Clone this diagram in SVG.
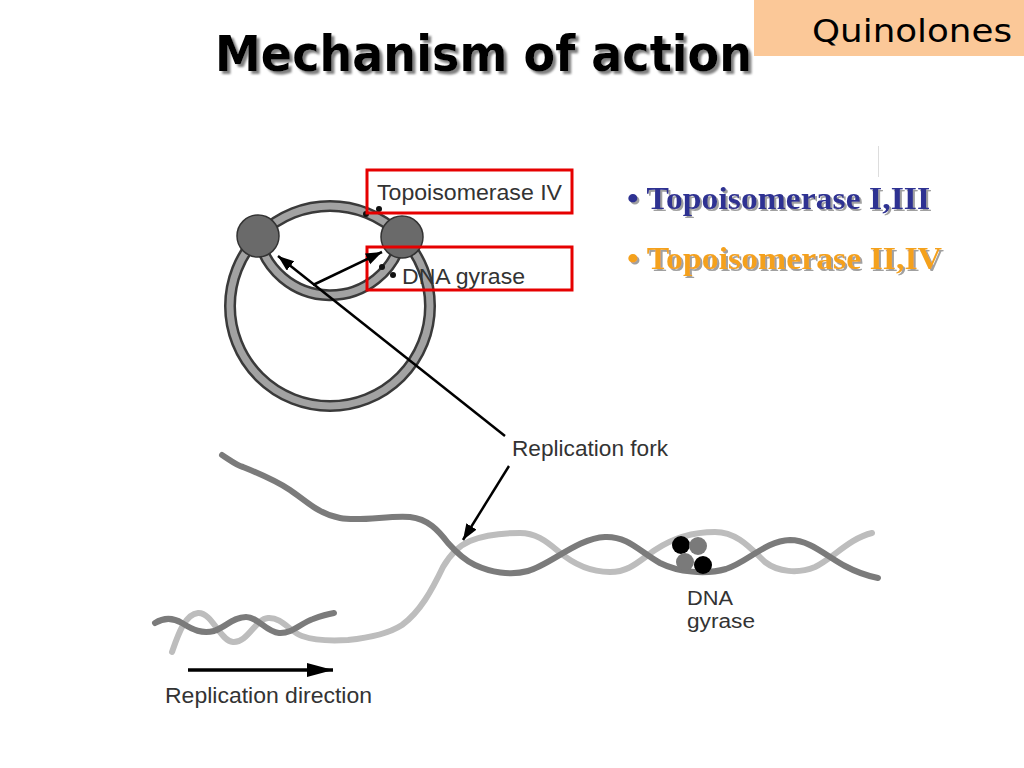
<svg xmlns="http://www.w3.org/2000/svg" width="1024" height="768" viewBox="0 0 1024 768">
  <style>
    .title { font-family: "DejaVu Sans", "Liberation Sans", sans-serif; font-weight: bold; font-size: 50px; }
    .lbl { font-family: "Liberation Sans", Arial, sans-serif; font-size: 22px; fill: #333333; }
    .lbl2 { font-family: "Liberation Sans", Arial, sans-serif; font-size: 20px; fill: #333333; }
    .bul { font-family: "Liberation Serif", "Times New Roman", serif; font-weight: bold; font-size: 32px; }
    .tubeO { fill: none; stroke: #3a3a3a; stroke-width: 12; }
    .tubeI { fill: none; stroke: #a2a2a2; stroke-width: 7; }
    .bead { fill: #6a6a6a; stroke: #333333; stroke-width: 1.5; }
    .dot { fill: #111111; }
    .redbox { fill: none; stroke: #e60000; stroke-width: 3; }
    .arr { fill: none; stroke: #000000; stroke-width: 2.5; }
    .dark { fill: none; stroke: #7b7b7b; stroke-width: 6; stroke-linecap: round; }
    .light { fill: none; stroke: #bdbdbd; stroke-width: 6; stroke-linecap: round; }
  </style>
  <defs>
    <filter id="shTitle" x="-5%" y="-20%" width="110%" height="150%">
      <feDropShadow dx="3" dy="3" stdDeviation="0.8" flood-color="#808080" flood-opacity="1"/>
    </filter>
    <filter id="shBul" x="-5%" y="-20%" width="110%" height="150%">
      <feDropShadow dx="2" dy="2" stdDeviation="0.6" flood-color="#a0a0a0" flood-opacity="1"/>
    </filter>
    <marker id="ah" markerUnits="userSpaceOnUse" markerWidth="18" markerHeight="14" refX="16" refY="6" orient="auto">
      <path d="M0,0 L16,6 L0,12 z" fill="#000000"/>
    </marker>
    <marker id="ahBig" markerUnits="userSpaceOnUse" markerWidth="28" markerHeight="16" refX="26" refY="7" orient="auto">
      <path d="M0,0 L26,7 L0,14 z" fill="#000000"/>
    </marker>
  </defs>
  <rect x="0" y="0" width="1024" height="768" fill="#ffffff"/>

  <g id="header">
    <rect x="754" y="0" width="270" height="56" fill="#fbc898"/>
    <text x="812" y="42" font-family="DejaVu Sans, sans-serif" font-size="32" fill="#000000" textLength="200" lengthAdjust="spacingAndGlyphs">Quinolones</text>
    <text class="title" x="215" y="71" fill="#000000" filter="url(#shTitle)" textLength="537" lengthAdjust="spacingAndGlyphs">Mechanism of action</text>
  </g>

  <g id="bullets">
    <text class="bul" x="627" y="209" fill="#2e3192" filter="url(#shBul)" textLength="303" lengthAdjust="spacingAndGlyphs">• Topoisomerase I,III</text>
    <text class="bul" x="627" y="269" fill="#f4a11f" filter="url(#shBul)" textLength="315" lengthAdjust="spacingAndGlyphs">• Topoisomerase II,IV</text>
    <line x1="878.5" y1="146" x2="878.5" y2="177" stroke="#dddddd" stroke-width="1"/>
  </g>

  <g id="plasmid">
    <circle class="tubeO" cx="330" cy="306" r="100"/>
    <circle class="tubeI" cx="330" cy="306" r="100"/>
    <path class="tubeO" d="M258,235 A73.4,73.4 0 0 0 402,237"/>
    <path class="tubeI" d="M258,235 A73.4,73.4 0 0 0 402,237"/>
    <circle class="bead" cx="258" cy="236" r="21"/>
    <circle class="bead" cx="402" cy="237" r="21"/>
    <circle class="dot" cx="366" cy="214" r="3"/>
    <circle class="dot" cx="379" cy="209" r="3"/>
    <circle class="dot" cx="382" cy="267" r="3"/>
    <circle class="dot" cx="393" cy="275" r="3"/>
  </g>

  <g id="topo-iv">
    <rect class="redbox" x="367" y="170" width="205" height="43"/>
    <text class="lbl" x="377" y="200" textLength="185" lengthAdjust="spacingAndGlyphs">Topoisomerase IV</text>
  </g>

  <g id="dna-gyrase-box">
    <rect class="redbox" x="367" y="247" width="205" height="43"/>
    <text class="lbl" x="402" y="284" textLength="123" lengthAdjust="spacingAndGlyphs">DNA gyrase</text>
  </g>

  <g id="dna">
    <path class="light" d="M172,652 C178,635 185,614 198,613 C212,612 220,641 233,642 C248,643 255,619 268,618 C282,617 290,632 302,636 C316,641 332,641 348,640 C368,638 388,634 402,625 C420,612 432,590 443,567 C450,555 458,546 470,541 C482,536 500,533 520,533 C535,533 545,540 558,551 C572,563 590,572 610,572 C630,572 640,560 655,550 C670,540 690,532 715,532 C738,532 752,550 765,562 C778,572 798,574 815,567 C832,559 850,538 872,533"/>
    <path class="dark" d="M155,623 C163,618 172,617 182,623 C193,630 202,634 214,631 C226,627 233,617 246,617 C258,617 266,632 279,633 C292,634 301,623 313,619 C321,616 328,614 334,613"/>
    <path class="dark" d="M222,455 C230,460 236,465 243,467 C258,473 275,480 290,490 C305,500 318,514 340,518 C360,522 390,515 410,517 C428,519 438,530 448,543 C456,552 464,560 475,565 C490,572 510,576 528,571 C550,565 578,538 605,537 C628,536 640,552 660,563 C678,572 705,575 726,569 C748,562 765,541 790,540 C810,540 826,556 845,566 C858,573 868,576 878,578"/>
    <circle cx="681" cy="545" r="9" fill="#000000"/>
    <circle cx="698" cy="546" r="9" fill="#7a7a7a"/>
    <circle cx="685" cy="562" r="9" fill="#7a7a7a"/>
    <circle cx="703" cy="565" r="9" fill="#000000"/>
  </g>

  <g id="replication-fork">
    <text class="lbl" x="512" y="456" textLength="156" lengthAdjust="spacingAndGlyphs">Replication fork</text>
  </g>
  <g id="dna-gyrase">
    <text class="lbl2" x="687" y="605" textLength="46" lengthAdjust="spacingAndGlyphs">DNA</text>
    <text class="lbl2" x="687" y="628" textLength="68" lengthAdjust="spacingAndGlyphs">gyrase</text>
  </g>
  <g id="replication-direction">
    <text class="lbl" x="165" y="703" textLength="207" lengthAdjust="spacingAndGlyphs">Replication direction</text>
  </g>

  <g id="connectors">
    <line class="arr" x1="505" y1="436" x2="278" y2="256" marker-end="url(#ah)"/>
    <line class="arr" x1="313" y1="285" x2="382" y2="252" marker-end="url(#ah)"/>
    <line class="arr" x1="509" y1="466" x2="463" y2="540" marker-end="url(#ah)"/>
    <line x1="188" y1="670" x2="333" y2="670" stroke="#000000" stroke-width="3.5" marker-end="url(#ahBig)"/>
  </g>
</svg>
